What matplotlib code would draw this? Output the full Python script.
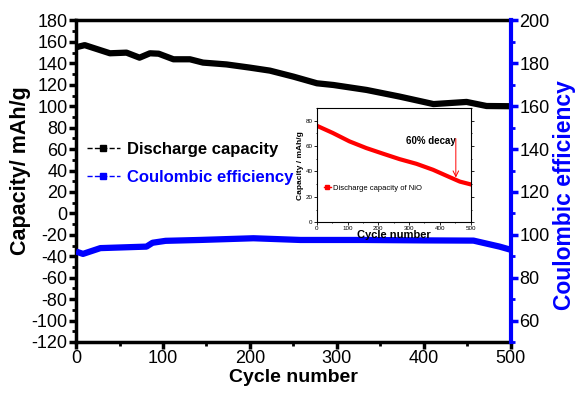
import matplotlib.pyplot as plt
from matplotlib.lines import Line2D
from matplotlib.ticker import MultipleLocator

plt.rcParams['font.family'] = ['Liberation Sans', 'DejaVu Sans']
plt.rcParams['axes.unicode_minus'] = False

# discharge capacity (mAh/g)
cap_cycle = [0, 10, 39, 58, 73, 85, 95, 112, 131, 146, 173, 200, 223, 250,
             277, 296, 334, 372, 411, 449, 472, 499]
cap_value = [155, 157, 149.4, 150, 145.3, 149.4, 149, 143.8, 143.8, 140.7,
             139, 136, 133.2, 127.6, 121.4, 119.8, 115.2, 109, 102, 104,
             100.2, 100]

# coulombic efficiency (%)
ce_cycle = [0, 8, 28, 81, 88, 103, 142, 204, 258, 330, 400, 457, 487, 500]
ce_value = [92.2, 91.1, 93.8, 94.5, 96.3, 97.2, 97.6, 98.4, 97.6, 97.6,
            97.4, 97.3, 94.5, 93]

# inset: NiO discharge capacity
nio_cycle = [0, 52, 106, 161, 215, 269, 324, 378, 432, 465, 497]
nio_value = [76, 70.3, 63.7, 58.4, 54, 49.7, 46, 41.3, 35.5, 32, 30]

fig = plt.figure(figsize=(5.76, 3.94), dpi=100)
ax = fig.add_axes([0.132, 0.132, 0.755, 0.816])
ax2 = ax.twinx()

ax.plot(cap_cycle, cap_value, color='black', lw=4.5, solid_capstyle='butt')
ax2.plot(ce_cycle, ce_value, color='#0000ff', lw=4.5, solid_capstyle='butt')

ax.set_xlim(0, 500)
ax.set_ylim(-120, 180)
ax2.set_ylim(50, 200)

ax.xaxis.set_major_locator(MultipleLocator(100))
ax.xaxis.set_minor_locator(MultipleLocator(50))
ax.yaxis.set_major_locator(MultipleLocator(20))
ax.yaxis.set_minor_locator(MultipleLocator(10))
ax2.yaxis.set_minor_locator(MultipleLocator(10))
ax2.set_yticks(range(60, 201, 20))

for s in ['left', 'bottom', 'top']:
    ax.spines[s].set_linewidth(2.5)
ax2.spines['right'].set_linewidth(3)
ax2.spines['right'].set_color('#0000ff')
for s in ['left', 'bottom', 'top']:
    ax2.spines[s].set_visible(False)

ax.tick_params(axis='both', which='major', direction='out', length=5, width=2.5,
               labelsize=13, pad=1)
ax.tick_params(axis='both', which='minor', direction='out', length=3, width=2)
ax2.tick_params(axis='y', which='major', direction='out', length=5, width=2.5,
                color='#0000ff', labelsize=13, pad=1)
ax2.tick_params(axis='y', which='minor', direction='out', length=3, width=2,
                color='#0000ff')

ax.set_xlabel('Cycle number', fontsize=14, fontweight='bold', labelpad=1)
ax.set_ylabel('Capacity/ mAh/g', fontsize=15.5, fontweight='bold')
ax.yaxis.set_label_coords(-0.103, 0.532)
ax2.set_ylabel('Coulombic efficiency', fontsize=16.5, fontweight='bold',
               color='#0000ff')
ax2.yaxis.set_label_coords(1.097, 0.457)

handles = [Line2D([], [], color='black', ls='--', lw=1, marker='s', ms=4),
           Line2D([], [], color='#0000ff', ls='--', lw=1, marker='s', ms=4)]
leg = ax.legend(handles, ['Discharge capacity', 'Coulombic efficiency'],
                loc='upper left', bbox_to_anchor=(-0.01, 0.668), frameon=False,
                handlelength=2, handletextpad=0.4, labelspacing=0.75,
                prop={'weight': 'bold', 'size': 12})
leg.get_texts()[1].set_color('#0000ff')

# inset
ins = fig.add_axes([0.550, 0.436, 0.267, 0.290])
ins.plot(nio_cycle, nio_value, color='red', lw=3)
ins.set_xlim(0, 500)
ins.set_ylim(0, 90)
ins.xaxis.set_major_locator(MultipleLocator(100))
ins.xaxis.set_minor_locator(MultipleLocator(50))
ins.yaxis.set_major_locator(MultipleLocator(20))
ins.yaxis.set_minor_locator(MultipleLocator(10))
ins.tick_params(which='both', labelsize=4.5, length=2, width=0.6, pad=1,
                right=True)
ins.tick_params(which='minor', length=1)
for s in ins.spines.values():
    s.set_linewidth(0.8)
ins.set_xlabel('Cycle number', fontsize=8, fontweight='bold', labelpad=-1)
ins.set_ylabel('Capacity / mAh/g', fontsize=6, fontweight='bold', labelpad=1)
ins.legend([Line2D([], [], color='red', lw=1, marker='s', ms=2.5)],
           ['Discharge capacity of NiO'], loc='center left',
           bbox_to_anchor=(0.0, 0.3), frameon=False, handlelength=1,
           handletextpad=0.2, prop={'size': 5.5})
ins.text(370, 62, '60% decay', fontsize=7, fontweight='bold', ha='center')
ins.annotate('', xy=(452, 33), xytext=(452, 68),
             arrowprops=dict(arrowstyle='->', color='red', lw=0.7))

plt.savefig('out.png', dpi=100)
